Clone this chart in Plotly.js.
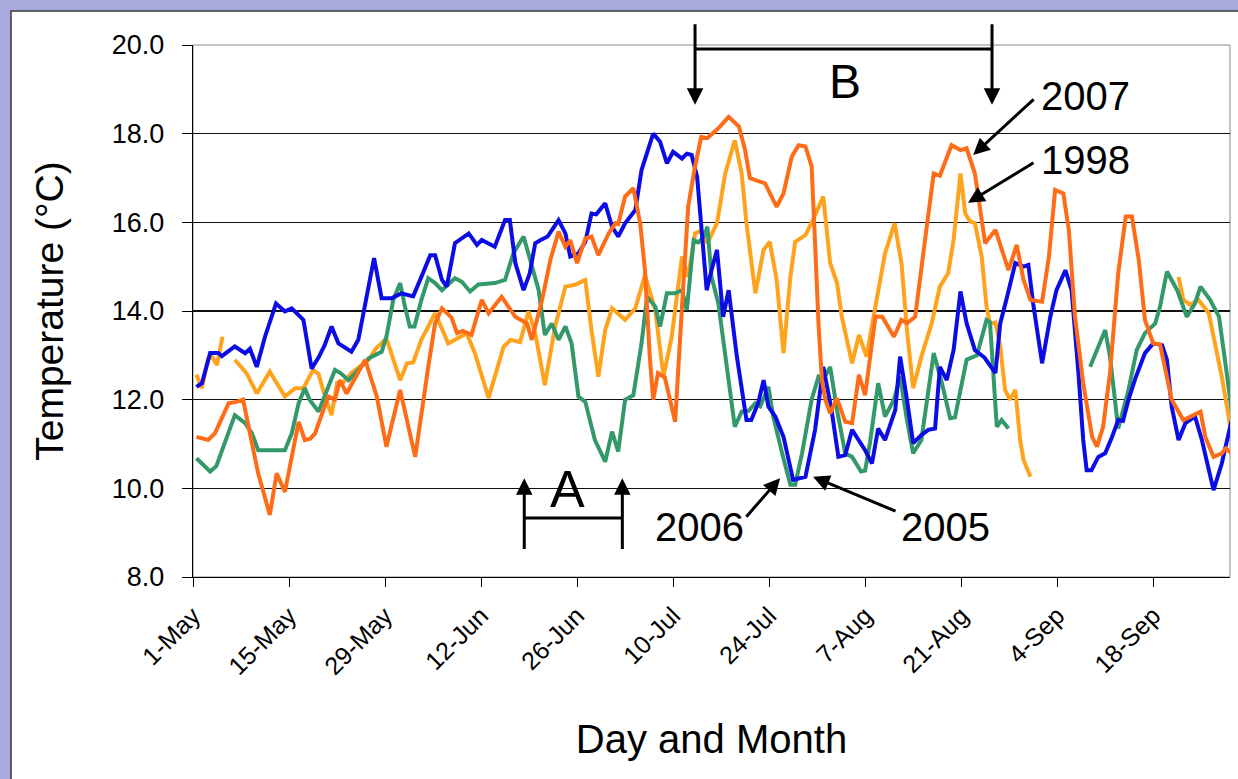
<!DOCTYPE html>
<html>
<head>
<meta charset="utf-8">
<script src="https://cdn.plot.ly/plotly-3.0.1.min.js"></script>
<style>html,body{margin:0;padding:0;background:#a9abde;}#chart{width:1238px;height:779px;}</style>
</head>
<body>
<div id="chart"></div>
<script>
// Day offsets are days after 1 May.
const tickDays = [0, 14, 28, 42, 56, 70, 84, 98, 112, 126, 140];
const tickLabels = ["1-May", "15-May", "29-May", "12-Jun", "26-Jun", "10-Jul", "24-Jul", "7-Aug", "21-Aug", "4-Sep", "18-Sep"];

const days2005 = [0.5,1.3,2.5,3.7,4.2,6.1,7.6,8.3,9.3,10.5,12.1,13.4,14.4,16.1,17.3,18.3,19.2,20.2,21.2,23.1,24.1,26.4,27.5,29.0,30.4,32.1,33.3,34.6,35.3,36.3,37.0,38.2,40.2,41.4,42.1,44.0,45.5,46.2,47.0,48.2,49.1,49.9,50.7,51.7,53.3,54.3,55.0,56.2,57.2,58.1,58.8,60.1,61.1,62.0,63.0,64.5,65.4,67.1,68.1,69.1,70.0,71.3,72.0,72.7,73.5,74.2,74.9,75.6,76.4,77.3,78.1,79.3,80.0,80.7,81.4,82.4,83.2,83.9,84.9,86.1,87.5,89.3,90.7,91.9,93.1,94.1,95.1,96.1,98.0,99.0,99.9,100.9,102.4,103.1,104.1,105.0,106.2,107.2,108.2,108.9,109.9,110.9,111.9,112.8,114.0,115.4,117.0,117.7,118.7,119.9,121.1,121.8,122.5,123.8,125.0,125.9,127.2,128.1,129.1,129.8,130.3,131.0,132.0,133.0,134.0,134.9,135.6,136.4,137.4,138.8,140.0,141.3,142.0,142.7,143.7,144.7,146.1,147.1,148.8,150.0,151.0,151.7];
const temp2005 = [12.29,12.37,13.05,13.05,12.98,13.2,13.05,13.15,12.74,13.42,14.17,13.99,14.06,13.8,12.7,12.95,13.23,13.65,13.27,13.08,13.35,15.19,14.29,14.29,14.4,14.33,14.77,15.26,15.26,14.7,14.55,15.53,15.75,15.49,15.6,15.45,16.05,16.05,15.08,14.47,14.85,15.53,15.6,15.68,16.05,15.75,15.23,15.3,15.56,16.2,16.18,16.43,15.9,15.68,15.98,16.28,17.18,18.0,17.82,17.33,17.59,17.44,17.55,17.52,17.03,15.83,14.47,14.92,15.38,13.87,14.47,12.97,12.22,11.54,11.54,11.92,12.44,11.84,11.62,11.16,10.19,10.26,11.32,12.74,11.77,10.71,10.75,11.32,10.86,10.56,11.35,11.09,11.77,12.97,12.0,11.02,11.2,11.32,11.35,12.74,12.44,13.12,14.44,13.72,13.12,12.95,12.6,13.72,14.32,15.08,15.0,15.04,14.17,12.82,13.87,14.47,14.92,14.47,12.6,11.09,10.41,10.41,10.71,10.79,11.16,11.54,11.52,12.0,12.48,13.05,13.27,13.23,12.9,11.84,11.09,11.47,11.62,11.09,9.96,10.56,11.24,11.69];

const days2006 = [0.5,2.5,3.4,6.1,7.6,8.6,9.5,11.5,13.4,14.4,15.4,16.3,17.0,18.3,19.7,20.7,21.5,22.7,24.1,25.6,27.5,28.2,29.2,30.2,30.9,31.6,32.3,33.3,34.3,35.3,36.3,37.2,38.2,39.2,40.4,41.6,44.0,45.5,46.7,48.2,49.1,50.4,51.3,52.3,53.3,54.3,55.2,56.2,57.2,58.6,60.1,61.1,62.0,63.0,64.2,65.4,66.2,67.4,68.1,69.1,70.3,71.3,72.0,73.0,73.7,74.5,75.0,75.6,76.6,77.6,79.0,80.0,81.0,82.0,82.7,83.9,84.6,85.9,87.1,87.8,88.8,90.2,91.2,92.0,92.9,93.9,95.1,96.1,97.4,98.0,98.7,99.9,100.9,102.2,103.1,104.1,105.0,106.2,107.2,108.0,109.2,110.4,111.1,111.9,112.8,114.3,115.0,115.7,116.2,116.7,117.2,117.9,118.9,124.0,130.8,132.0,133.0,133.7,134.9,136.4,137.6,138.8,140.3,141.0,142.0,143.5,144.9,146.1,146.9,148.3,149.6,150.6,151.4,152.0];
const temp2006 = [10.68,10.38,10.5,11.65,11.47,11.24,10.86,10.86,10.86,11.24,11.92,12.26,12.0,11.73,12.29,12.67,12.6,12.44,12.67,12.93,13.08,13.42,14.25,14.63,14.1,13.65,13.65,14.25,14.74,14.63,14.47,14.6,14.74,14.66,14.44,14.6,14.63,14.7,15.3,15.68,15.2,14.47,13.46,13.72,13.35,13.65,13.27,12.07,11.95,11.09,10.6,11.28,10.83,12.0,12.1,13.27,14.32,14.1,13.65,14.4,14.4,14.47,14.02,15.6,15.55,15.68,15.9,14.77,14.17,12.97,11.39,11.73,11.75,11.92,11.85,12.29,11.62,10.79,10.08,10.08,10.79,12.0,12.52,12.48,12.74,11.77,10.79,10.71,10.38,10.4,11.02,12.37,11.62,12.0,12.52,11.54,10.79,11.09,12.22,13.05,12.37,11.58,11.6,12.22,12.9,13.0,13.38,13.8,13.75,12.44,11.39,11.54,11.35,null,12.74,13.2,13.57,12.97,11.35,12.22,13.12,13.5,13.72,14.1,14.89,14.47,13.87,14.17,14.55,14.25,13.87,12.74,11.69,11.09];

const days2007 = [0.5,2.2,3.2,5.2,6.3,7.3,8.1,9.5,11.2,12.2,13.4,15.4,16.3,17.1,17.8,19.7,20.7,21.4,22.4,25.1,26.8,28.2,30.2,32.4,34.3,35.3,36.3,37.7,38.5,39.3,40.6,42.1,43.1,45.0,47.0,48.7,49.4,50.9,52.1,53.3,54.3,55.0,56.0,57.2,58.1,59.1,60.6,61.6,62.0,63.0,64.2,65.2,65.9,66.6,67.1,67.8,68.8,70.3,71.3,72.2,73.2,74.1,75.0,76.2,76.6,78.1,79.6,80.5,81.2,82.0,83.4,85.1,86.1,87.3,88.3,89.3,90.2,90.7,91.2,91.7,92.2,92.9,93.9,95.1,96.1,97.1,98.0,99.5,100.5,102.2,103.3,104.1,105.3,106.8,108.0,108.9,110.6,111.9,112.8,114.0,114.3,115.5,117.0,118.9,120.1,121.1,122.1,123.8,124.8,125.7,126.9,127.7,128.6,129.8,131.1,131.8,132.7,133.7,134.9,136.0,136.9,137.9,138.8,140.0,141.0,142.7,144.4,145.6,146.9,147.6,148.8,150.0,150.6,152.0];
const temp2007 = [11.16,11.09,11.24,11.92,11.95,12.0,11.39,10.34,9.4,10.34,9.92,11.5,11.09,11.12,11.24,12.07,12.0,12.44,12.14,12.9,12.07,10.94,12.22,10.71,12.74,13.72,14.06,13.85,13.5,13.55,13.46,14.25,13.95,14.32,13.87,13.72,13.35,14.25,15.15,15.79,15.45,15.6,15.08,15.64,15.68,15.26,15.75,15.98,15.96,16.58,16.77,15.98,14.92,12.97,12.0,12.6,12.5,11.5,14.1,16.35,17.26,17.93,17.9,18.08,18.12,18.38,18.16,17.63,17.0,16.95,16.88,16.35,16.65,17.48,17.74,17.71,17.26,15.53,13.72,12.44,12.0,11.69,12.03,11.5,11.47,12.56,12.1,13.87,13.87,13.42,13.8,13.72,13.87,15.68,17.1,17.05,17.74,17.63,17.67,17.1,16.8,15.53,15.83,14.92,15.49,14.7,14.25,14.21,15.23,16.73,16.65,15.83,13.87,12.37,11.16,10.94,11.39,12.6,14.85,16.13,16.13,15.15,13.8,13.27,13.25,12.0,11.54,11.64,11.73,11.16,10.71,10.79,10.9,10.71];

const days1998 = [0.5,1.3,2.2,2.8,3.5,4.3,5.2,6.1,7.8,9.3,11.2,13.4,14.9,16.1,17.5,18.3,19.0,20.2,21.0,21.7,23.1,25.6,26.7,28.2,30.2,31.2,32.1,33.3,35.3,36.3,37.2,38.2,39.9,41.1,43.1,45.3,46.3,47.7,48.9,49.9,51.3,52.8,54.3,55.7,57.2,58.1,59.1,60.1,61.1,63.0,64.5,65.9,67.4,68.6,69.8,71.3,72.2,73.2,73.9,75.0,76.4,77.6,79.0,80.0,80.7,82.0,83.2,84.1,85.1,86.1,87.1,87.8,89.3,90.5,91.9,92.9,93.9,94.6,96.1,97.1,98.2,99.5,100.9,102.3,103.3,104.1,105.0,106.2,107.7,108.9,110.1,110.9,111.9,112.6,113.3,114.0,115.0,115.7,116.2,117.0,117.7,118.4,119.1,119.9,120.6,121.1,122.1,130.0,143.7,144.4,145.4,146.6,148.1,149.1,150.0,151.0,151.7];
const temp1998 = [12.56,12.26,12.93,12.96,12.78,13.42,null,12.9,12.6,12.14,12.63,12.07,12.26,12.26,12.67,12.58,12.2,11.65,12.37,12.35,12.6,12.9,13.16,13.38,12.44,12.82,12.84,13.35,13.95,13.6,13.27,13.35,13.5,13.05,12.04,13.2,13.35,13.3,13.99,13.5,12.33,13.65,14.55,14.59,14.7,13.57,12.52,13.57,14.06,13.8,14.06,14.81,14.02,12.52,13.42,15.23,14.77,15.75,15.8,15.53,15.98,17.1,17.85,17.1,15.98,14.4,15.38,15.56,14.7,13.05,14.77,15.56,15.71,16.09,16.58,15.08,14.63,13.87,12.82,13.46,12.97,14.1,15.3,15.98,15.08,13.57,12.26,12.97,13.72,14.55,14.85,15.6,17.1,16.2,16.02,15.98,15.23,14.1,13.72,13.74,13.2,12.22,12.0,12.22,11.09,10.64,10.26,null,14.77,14.25,14.14,14.25,13.95,13.2,12.52,11.62,10.86];

const FONT = "Liberation Sans, Arial, Helvetica, sans-serif";
function series(x, y, color, name) {
  return {x: x, y: y, type: "scatter", mode: "lines", name: name,
          line: {color: color, width: 4}, connectgaps: false, hoverinfo: "x+y"};
}
const data = [
  series(days1998, temp1998, "#ffa21c", "1998"),
  series(days2006, temp2006, "#34996a", "2006"),
  series(days2005, temp2005, "#0c0ce6", "2005"),
  series(days2007, temp2007, "#ff6c17", "2007")
];

const arrowBase = {showarrow: true, arrowhead: 2, arrowsize: 1.1, arrowwidth: 3, arrowcolor: "#000", text: ""};
const annotations = [
  // A bracket arrows
  Object.assign({}, arrowBase, {x: 48.3, y: 10.23, axref: "x", ayref: "y", ax: 48.3, ay: 8.6}),
  Object.assign({}, arrowBase, {x: 62.6, y: 10.23, axref: "x", ayref: "y", ax: 62.6, ay: 8.6}),
  {x: 54.6, y: 9.98, text: "A", showarrow: false, font: {family: FONT, size: 52, color: "#000"}},
  // B bracket arrows
  Object.assign({}, arrowBase, {x: 73.2, y: 18.65, axref: "x", ayref: "y", ax: 73.2, ay: 20.5}),
  Object.assign({}, arrowBase, {x: 116.5, y: 18.65, axref: "x", ayref: "y", ax: 116.5, ay: 20.5}),
  {x: 95.1, y: 19.17, text: "B", showarrow: false, font: {family: FONT, size: 48, color: "#000"}},
  // year labels
  {x: 123.3, y: 18.85, text: "2007", xanchor: "left", showarrow: false, font: {family: FONT, size: 40, color: "#000"}},
  Object.assign({}, arrowBase, {x: 113.75, y: 17.52, ax: 62, ay: -57}),
  {x: 123.3, y: 17.41, text: "1998", xanchor: "left", showarrow: false, font: {family: FONT, size: 40, color: "#000"}},
  Object.assign({}, arrowBase, {x: 113.0, y: 16.44, ax: 67, ay: -41}),
  {x: 73.9, y: 9.13, text: "2006", showarrow: false, font: {family: FONT, size: 40, color: "#000"}},
  Object.assign({}, arrowBase, {x: 85.6, y: 10.23, ax: -35, ay: 40}),
  {x: 109.7, y: 9.13, text: "2005", showarrow: false, font: {family: FONT, size: 40, color: "#000"}},
  Object.assign({}, arrowBase, {x: 90.4, y: 10.26, ax: 84, ay: 35})
];

const shapes = [
  // white slide panel
  {type: "rect", xref: "paper", yref: "paper", x0: -0.1755, x1: 1.02, y0: -0.45, y1: 1.0639,
   fillcolor: "#ffffff", line: {color: "#3a3a3a", width: 1.5}, layer: "below"},
  // plot area border (gray top/right)
  {type: "rect", xref: "paper", yref: "paper", x0: 0, x1: 1, y0: 0, y1: 1,
   line: {color: "#8a8a8a", width: 1}, layer: "below"},
  // bracket bars
  {type: "line", xref: "x", yref: "y", x0: 48.3, x1: 62.6, y0: 9.33, y1: 9.33, line: {color: "#000", width: 3}},
  {type: "line", xref: "x", yref: "y", x0: 73.2, x1: 116.5, y0: 19.91, y1: 19.91, line: {color: "#000", width: 3}}
];

const layout = {
  width: 1238, height: 779,
  margin: {l: 193, r: 8, t: 45, b: 202},
  paper_bgcolor: "#a9abde",
  plot_bgcolor: "rgba(0,0,0,0)",
  showlegend: false,
  font: {family: FONT, color: "#000"},
  xaxis: {
    range: [0, 151.2], tickvals: tickDays, ticktext: tickLabels, tickangle: -45,
    ticks: "outside", ticklen: 9, tickcolor: "#000", tickwidth: 1,
    showline: true, linecolor: "#000", linewidth: 1.2, showgrid: false, zeroline: false,
    tickfont: {family: FONT, size: 25, color: "#000"}, ticklabelstandoff: 4,
    title: {text: "Day and Month", font: {family: FONT, size: 40, color: "#000"}, standoff: 46}
  },
  yaxis: {
    range: [8, 20], tickvals: [8, 10, 12, 14, 16, 18, 20], tickformat: ".1f",
    ticks: "outside", ticklen: 10, tickcolor: "#000", tickwidth: 1,
    showline: true, linecolor: "#000", linewidth: 1.2,
    showgrid: true, gridcolor: "#111", gridwidth: 1.2, zeroline: false,
    tickfont: {family: FONT, size: 27, color: "#000"}, ticklabelstandoff: 12,
    title: {text: "Temperature (°C)", font: {family: FONT, size: 39, color: "#000"}, standoff: 36}
  },
  annotations: annotations,
  shapes: shapes
};

Plotly.newPlot("chart", data, layout, {displayModeBar: false, staticPlot: true});
</script>
</body>
</html>
